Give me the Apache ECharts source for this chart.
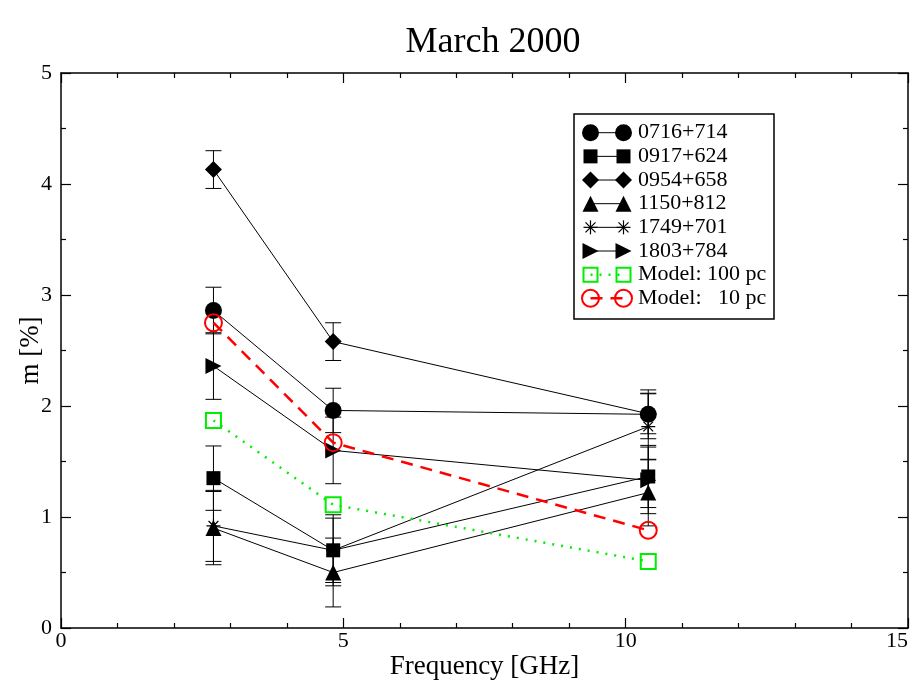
<!DOCTYPE html>
<html>
<head>
<meta charset="utf-8">
<title>March 2000</title>
<script src="https://cdn.jsdelivr.net/npm/echarts@6/dist/echarts.min.js"></script>
<style>
  html, body { margin: 0; padding: 0; background: #fff; }
  #chart { width: 917px; height: 687px; }
</style>
</head>
<body>
<div id="chart"></div>
<script>
// Observing frequencies (GHz)
const freqGHz = [2.7, 4.82, 10.4];

// Modulation index m [%] per source, with 1-sigma errors
const src0716 = [2.86, 1.96, 1.925];
const err0716 = [0.21, 0.20, 0.22];
const src0917 = [1.35, 0.70, 1.365];
const err0917 = [0.29, 0.29, 0.28];
const src0954 = [4.13, 2.58, 1.93];
const err0954 = [0.17, 0.17, 0.18];
const src1150 = [0.90, 0.50, 1.22];
const err1150 = [0.33, 0.31, 0.30];
const src1749 = [0.92, 0.70, 1.815];
const err1749 = [0.32, 0.32, 0.30];
const src1803 = [2.36, 1.60, 1.33];
const err1803 = [0.30, 0.30, 0.30];

// Model predictions
const model100pc = [1.87, 1.11, 0.60];
const model10pc = [2.75, 1.67, 0.88];

const sourceNames = ['0716+714', '0917+624', '0954+658', '1150+812', '1749+701', '1803+784'];
const modelNames = ['Model: 100 pc', 'Model:   10 pc'];

const SERIF = "'Liberation Serif','Times New Roman',serif";
const GREEN = '#00ee00';
const RED = '#ff0000';

const sources = [
  { name: sourceNames[0], vals: src0716, errs: err0716, symbol: 'circle', size: 17 },
  { name: sourceNames[1], vals: src0917, errs: err0917, symbol: 'rect', size: 14 },
  { name: sourceNames[2], vals: src0954, errs: err0954, symbol: 'diamond', size: 17 },
  { name: sourceNames[3], vals: src1150, errs: err1150, symbol: 'triangle', size: 16 },
  { name: sourceNames[4], vals: src1749, errs: err1749, symbol: 'path://M5,0L5,10M0,5L10,5M1.5,1.5L8.5,8.5M8.5,1.5L1.5,8.5', size: 14, hollow: true },
  { name: sourceNames[5], vals: src1803, errs: err1803, symbol: 'path://M0,0L10,5L0,10Z', size: 16 }
];

const toPairs = vals => vals.map((v, i) => [freqGHz[i], v]);

function errorBarRenderer(params, api) {
  const x = api.value(0), y = api.value(1), e = api.value(2);
  const top = api.coord([x, y + e]);
  const bot = api.coord([x, y - e]);
  const hw = 8;
  const st = { stroke: '#000', lineWidth: 1 };
  return {
    type: 'group',
    children: [
      { type: 'line', shape: { x1: top[0], y1: top[1], x2: bot[0], y2: bot[1] }, style: st },
      { type: 'line', shape: { x1: top[0] - hw, y1: top[1], x2: top[0] + hw, y2: top[1] }, style: st },
      { type: 'line', shape: { x1: bot[0] - hw, y1: bot[1], x2: bot[0] + hw, y2: bot[1] }, style: st }
    ]
  };
}

const series = [];
sources.forEach(s => {
  series.push({
    type: 'custom',
    name: s.name + ' err',
    renderItem: errorBarRenderer,
    data: s.vals.map((v, i) => [freqGHz[i], v, s.errs[i]]),
    z: 2,
    silent: true
  });
});
sources.forEach(s => {
  series.push({
    type: 'line',
    name: s.name,
    data: toPairs(s.vals),
    symbol: s.symbol,
    symbolSize: s.size,
    showAllSymbol: true,
    lineStyle: { color: '#000', width: 1 },
    itemStyle: s.hollow
      ? { color: 'rgba(0,0,0,0)', borderColor: '#000', borderWidth: 1.2 }
      : { color: '#000', borderWidth: 0 },
    z: 3,
    animation: false
  });
});
series.push({
  type: 'line',
  name: modelNames[0],
  data: toPairs(model100pc),
  symbol: 'rect',
  symbolSize: 15,
  lineStyle: { color: GREEN, width: 2.5, type: [2, 7] },
  itemStyle: { color: 'rgba(0,0,0,0)', borderColor: GREEN, borderWidth: 2 },
  z: 4,
  animation: false
});
series.push({
  type: 'line',
  name: modelNames[1],
  data: toPairs(model10pc),
  symbol: 'circle',
  symbolSize: 17,
  lineStyle: { color: RED, width: 2.5, type: [12, 8] },
  itemStyle: { color: 'rgba(0,0,0,0)', borderColor: RED, borderWidth: 2 },
  z: 5,
  animation: false
});

// Legend box drawn as graphics: symbol — line — symbol, then the label
const legendX = 574, legendY = 114, legendW = 200, legendH = 205;
const rowY0 = 132.7, rowStep = 23.66;
const sym1X = 590.5, sym2X = 623.5, textX = 638;

function legendSymbols(kind, cx, cy, color, hollow) {
  const fill = hollow ? 'rgba(0,0,0,0)' : color;
  const stroke = color;
  const lw = hollow ? 2 : 0;
  switch (kind) {
    case 'circle': return [{ type: 'circle', shape: { cx, cy, r: 8.5 }, style: { fill, stroke, lineWidth: lw } }];
    case 'rect': return [{ type: 'rect', shape: { x: cx - 7, y: cy - 7, width: 14, height: 14 }, style: { fill, stroke, lineWidth: lw } }];
    case 'diamond': return [{ type: 'polygon', shape: { points: [[cx, cy - 8.5], [cx + 8.5, cy], [cx, cy + 8.5], [cx - 8.5, cy]] }, style: { fill } }];
    case 'triangle': return [{ type: 'polygon', shape: { points: [[cx, cy - 8], [cx + 8, cy + 8], [cx - 8, cy + 8]] }, style: { fill } }];
    case 'rtri': return [{ type: 'polygon', shape: { points: [[cx - 8, cy - 8], [cx + 8, cy], [cx - 8, cy + 8]] }, style: { fill } }];
    case 'star': return [
      [0, -7, 0, 7], [-7, 0, 7, 0], [-5, -5, 5, 5], [5, -5, -5, 5]
    ].map(d => ({ type: 'line', shape: { x1: cx + d[0], y1: cy + d[1], x2: cx + d[2], y2: cy + d[3] }, style: { stroke: color, lineWidth: 1.2 } }));
  }
}

const legendRows = [
  { label: sourceNames[0], kind: 'circle', color: '#000' },
  { label: sourceNames[1], kind: 'rect', color: '#000' },
  { label: sourceNames[2], kind: 'diamond', color: '#000' },
  { label: sourceNames[3], kind: 'triangle', color: '#000' },
  { label: sourceNames[4], kind: 'star', color: '#000' },
  { label: sourceNames[5], kind: 'rtri', color: '#000' },
  { label: modelNames[0], kind: 'rect', color: GREEN, hollow: true, dash: [2, 7], lw: 2.5 },
  { label: modelNames[1], kind: 'circle', color: RED, hollow: true, dash: [12, 8], lw: 2.5 }
];

const legendGraphics = [{
  type: 'rect',
  shape: { x: legendX, y: legendY, width: legendW, height: legendH },
  style: { fill: '#fff', stroke: '#000', lineWidth: 1.5 },
  z: 10
}];
legendRows.forEach((r, i) => {
  const cy = rowY0 + i * rowStep;
  legendGraphics.push({
    type: 'line',
    shape: { x1: sym1X, y1: cy, x2: sym2X, y2: cy },
    style: { stroke: r.color, lineWidth: r.lw || 1, lineDash: r.dash || null },
    z: 11
  });
  [sym1X, sym2X].forEach(x => {
    legendSymbols(r.kind, x, cy, r.color, r.hollow).forEach(g => {
      g.z = 12;
      legendGraphics.push(g);
    });
  });
  legendGraphics.push({
    type: 'text',
    x: textX, y: cy,
    style: { text: r.label, font: '22px ' + SERIF, fill: '#000', verticalAlign: 'middle', textAlign: 'left' },
    z: 12
  });
});

const axisCommon = {
  type: 'value',
  axisLine: { show: true, onZero: false, lineStyle: { color: '#000', width: 1.5 } },
  axisTick: { show: true, inside: true, length: 10, lineStyle: { color: '#000', width: 1.2 } },
  minorTick: { show: true, length: 5, lineStyle: { color: '#000', width: 1.2 } },
  splitLine: { show: false },
  axisLabel: { color: '#000', fontSize: 22, fontFamily: SERIF }
};

const chart = echarts.init(document.getElementById('chart'), null, { renderer: 'canvas' });
chart.setOption({
  animation: false,
  backgroundColor: '#fff',
  title: {
    text: 'March 2000',
    left: 488,
    textAlign: 'center',
    top: 20,
    textStyle: { color: '#000', fontSize: 36, fontWeight: 'normal', fontFamily: SERIF }
  },
  grid: { left: 61, right: 9, top: 73, bottom: 59, containLabel: false, outerBoundsMode: 'none' },
  xAxis: [
    Object.assign({}, axisCommon, {
      position: 'bottom', min: 0, max: 15, interval: 5,
      minorTick: Object.assign({}, axisCommon.minorTick, { splitNumber: 5 }),
      axisLabel: Object.assign({}, axisCommon.axisLabel, { margin: 2, alignMaxLabel: 'right' }),
      name: 'Frequency [GHz]', nameLocation: 'middle', nameGap: 25, nameMoveOverlap: false,
      nameTextStyle: { color: '#000', fontSize: 27, fontFamily: SERIF }
    }),
    Object.assign({}, axisCommon, {
      position: 'top', min: 0, max: 15, interval: 5,
      minorTick: Object.assign({}, axisCommon.minorTick, { splitNumber: 5 }),
      axisLabel: { show: false }
    })
  ],
  yAxis: [
    Object.assign({}, axisCommon, {
      position: 'left', min: 0, max: 5, interval: 1,
      minorTick: Object.assign({}, axisCommon.minorTick, { splitNumber: 2 }),
      axisLabel: Object.assign({}, axisCommon.axisLabel, { margin: 9 }),
      name: 'm [%]', nameLocation: 'middle', nameGap: 17, nameRotate: 90, nameMoveOverlap: false,
      nameTextStyle: { color: '#000', fontSize: 27, fontFamily: SERIF }
    }),
    Object.assign({}, axisCommon, {
      position: 'right', min: 0, max: 5, interval: 1,
      minorTick: Object.assign({}, axisCommon.minorTick, { splitNumber: 2 }),
      axisLabel: { show: false }
    })
  ],
  series: series,
  graphic: legendGraphics
});
</script>
</body>
</html>
